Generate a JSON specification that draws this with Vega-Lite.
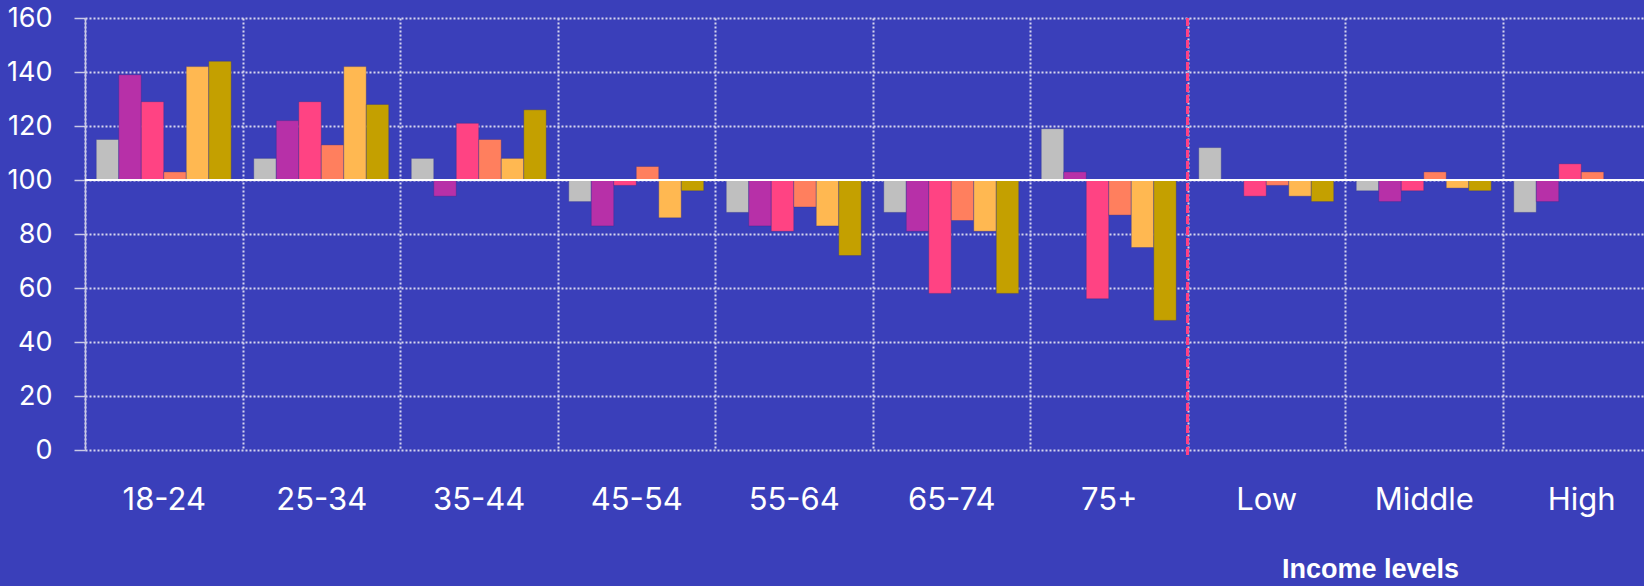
{
  "$schema": "https://vega.github.io/schema/vega-lite/v6.json",
  "width": 1559,
  "height": 432,
  "autosize": {"type": "none"},
  "padding": {"left": 85, "top": 18, "right": 0, "bottom": 136},
  "background": "#3a3fba",
  "config": {
    "view": {"stroke": null},
    "font": "Inter"
  },
  "data": {
    "values": [
      {"cat": "18-24", "s": "Series 1", "v": 115},
      {"cat": "18-24", "s": "Series 2", "v": 139},
      {"cat": "18-24", "s": "Series 3", "v": 129},
      {"cat": "18-24", "s": "Series 4", "v": 103},
      {"cat": "18-24", "s": "Series 5", "v": 142},
      {"cat": "18-24", "s": "Series 6", "v": 144},
      {"cat": "25-34", "s": "Series 1", "v": 108},
      {"cat": "25-34", "s": "Series 2", "v": 122},
      {"cat": "25-34", "s": "Series 3", "v": 129},
      {"cat": "25-34", "s": "Series 4", "v": 113},
      {"cat": "25-34", "s": "Series 5", "v": 142},
      {"cat": "25-34", "s": "Series 6", "v": 128},
      {"cat": "35-44", "s": "Series 1", "v": 108},
      {"cat": "35-44", "s": "Series 2", "v": 94},
      {"cat": "35-44", "s": "Series 3", "v": 121},
      {"cat": "35-44", "s": "Series 4", "v": 115},
      {"cat": "35-44", "s": "Series 5", "v": 108},
      {"cat": "35-44", "s": "Series 6", "v": 126},
      {"cat": "45-54", "s": "Series 1", "v": 92},
      {"cat": "45-54", "s": "Series 2", "v": 83},
      {"cat": "45-54", "s": "Series 3", "v": 98},
      {"cat": "45-54", "s": "Series 4", "v": 105},
      {"cat": "45-54", "s": "Series 5", "v": 86},
      {"cat": "45-54", "s": "Series 6", "v": 96},
      {"cat": "55-64", "s": "Series 1", "v": 88},
      {"cat": "55-64", "s": "Series 2", "v": 83},
      {"cat": "55-64", "s": "Series 3", "v": 81},
      {"cat": "55-64", "s": "Series 4", "v": 90},
      {"cat": "55-64", "s": "Series 5", "v": 83},
      {"cat": "55-64", "s": "Series 6", "v": 72},
      {"cat": "65-74", "s": "Series 1", "v": 88},
      {"cat": "65-74", "s": "Series 2", "v": 81},
      {"cat": "65-74", "s": "Series 3", "v": 58},
      {"cat": "65-74", "s": "Series 4", "v": 85},
      {"cat": "65-74", "s": "Series 5", "v": 81},
      {"cat": "65-74", "s": "Series 6", "v": 58},
      {"cat": "75+", "s": "Series 1", "v": 119},
      {"cat": "75+", "s": "Series 2", "v": 103},
      {"cat": "75+", "s": "Series 3", "v": 56},
      {"cat": "75+", "s": "Series 4", "v": 87},
      {"cat": "75+", "s": "Series 5", "v": 75},
      {"cat": "75+", "s": "Series 6", "v": 48},
      {"cat": "Low", "s": "Series 1", "v": 112},
      {"cat": "Low", "s": "Series 3", "v": 94},
      {"cat": "Low", "s": "Series 4", "v": 98},
      {"cat": "Low", "s": "Series 5", "v": 94},
      {"cat": "Low", "s": "Series 6", "v": 92},
      {"cat": "Middle", "s": "Series 1", "v": 96},
      {"cat": "Middle", "s": "Series 2", "v": 92},
      {"cat": "Middle", "s": "Series 3", "v": 96},
      {"cat": "Middle", "s": "Series 4", "v": 103},
      {"cat": "Middle", "s": "Series 5", "v": 97},
      {"cat": "Middle", "s": "Series 6", "v": 96},
      {"cat": "High", "s": "Series 1", "v": 88},
      {"cat": "High", "s": "Series 2", "v": 92},
      {"cat": "High", "s": "Series 3", "v": 106},
      {"cat": "High", "s": "Series 4", "v": 103}
    ]
  },
  "layer": [
    {
      "mark": {"type": "bar", "stroke": "#2a2f8a", "strokeOpacity": 0.35, "strokeWidth": 1},
      "encoding": {
        "x": {
          "field": "cat",
          "type": "nominal",
          "sort": ["18-24", "25-34", "35-44", "45-54", "55-64", "65-74", "75+", "Low", "Middle", "High"],
          "scale": {"domain": ["18-24", "25-34", "35-44", "45-54", "55-64", "65-74", "75+", "Low", "Middle", "High"], "range": [0, 1575], "paddingInner": 0, "paddingOuter": 0},
          "axis": {
            "orient": "bottom",
            "grid": true,
            "tickBand": "extent",
            "gridColor": "#d6d6ee",
            "gridWidth": 2,
            "gridDash": [2, 2],
            "ticks": false,
            "domain": false,
            "labelAngle": 0,
            "labelColor": "#ffffff",
            "labelFont": "Inter",
            "labelFontSize": 31,
            "labelBaseline": "middle",
            "labelPadding": 50,
            "title": "Income levels",
            "titleFont": "Liberation Sans",
            "titleFontWeight": "bold",
            "titleFontSize": 27,
            "titleColor": "#ffffff",
            "titleX": 1285,
            "titleY": 127,
            "titleAlign": "center",
            "titleBaseline": "alphabetic"
          }
        },
        "xOffset": {
          "field": "s",
          "type": "nominal",
          "scale": {"domain": ["Series 1", "Series 2", "Series 3", "Series 4", "Series 5", "Series 6"], "paddingInner": 0, "paddingOuter": 0.5}
        },
        "y": {
          "field": "v",
          "type": "quantitative",
          "scale": {"domain": [0, 160], "nice": false, "zero": false},
          "axis": {
            "values": [0, 20, 40, 60, 80, 100, 120, 140, 160],
            "grid": true,
            "gridColor": "#d6d6ee",
            "gridWidth": 2,
            "gridDash": [2, 2],
            "domain": true,
            "domainColor": "#c9c9e6",
            "domainWidth": 1.5,
            "ticks": true,
            "tickColor": "#c9c9e6",
            "tickWidth": 1.5,
            "tickSize": 11,
            "labelPadding": 22,
            "labelColor": "#ffffff",
            "labelFont": "Inter",
            "labelFontSize": 27,
            "title": null
          }
        },
        "y2": {"datum": 100},
        "color": {
          "field": "s",
          "type": "nominal",
          "scale": {"domain": ["Series 1", "Series 2", "Series 3", "Series 4", "Series 5", "Series 6"], "range": ["#bfbfbf", "#b730a8", "#ff4383", "#ff7f5e", "#ffb851", "#c4a000"]},
          "legend": null
        }
      }
    },
    {
      "mark": {"type": "rule", "color": "#ffffff", "strokeWidth": 1.5},
      "encoding": {"y": {"datum": 100}}
    },
    {
      "mark": {"type": "rule", "color": "#ff4383", "strokeWidth": 2, "strokeDash": [8, 3]},
      "encoding": {
        "x": {"datum": "Low", "bandPosition": 0},
        "y": {"datum": 160},
        "y2": {"datum": -3}
      }
    }
  ]
}
